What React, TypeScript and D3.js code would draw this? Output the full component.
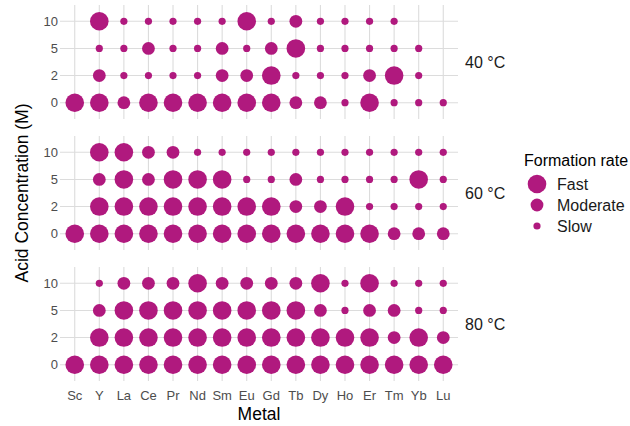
import React, { useEffect, useRef } from 'react';
import * as d3 from 'd3';

// metals on x, acid concentration on y, one panel per temperature
const metals = ['Sc', 'Y', 'La', 'Ce', 'Pr', 'Nd', 'Sm', 'Eu', 'Gd', 'Tb', 'Dy', 'Ho', 'Er', 'Tm', 'Yb', 'Lu'];
const concentrations = ['10', '5', '2', '0'];
const temperatures = ['40 °C', '60 °C', '80 °C'];
const rates = ['Fast', 'Moderate', 'Slow'];

// F = fast, M = moderate, S = slow, - = not observed; rows follow `concentrations`
const rates40 = [
  '-FSSSSSFSMSSSS--',
  '-SSMSSMSMFSSSSS-',
  '-MSSSSMMFSSSMFS-',
  'FFMFFFFFFMMSFSSS',
];
const rates60 = [
  '-FFMMSSSSSSSSSSS',
  '-MFMFFFSSMSSSSFS',
  '-FFFFFFFFMMFSSSS',
  'FFFFFFFFFFFFFMMM',
];
const rates80 = [
  '-SMMMFMMMMFSFSSS',
  '-MFFFFFFFFMSMMSS',
  '-FFFFFFFFFFFFMFM',
  'FFFFFFFFFFFFFFFF',
];
const panelRates = [rates40, rates60, rates80];

const codeToRate: Record<string, string> = { F: 'Fast', M: 'Moderate', S: 'Slow' };

const App = () => {
  const ref = useRef<SVGSVGElement>(null);

  useEffect(() => {
    const svg = d3.select(ref.current);
    svg.selectAll('*').remove();

    const width = 630;
    const height = 426;
    const left = 60;
    const right = 458;
    const panelTop = 5;
    const panelH = 114;
    const gap = 17;
    const color = '#b0197e';
    const font = 'Liberation Sans, Arial, sans-serif';

    const x = d3.scalePoint().domain(metals).range([left, right]).padding(0.6);
    const r = d3.scaleOrdinal<string, number>().domain(rates).range([9.3, 6.4, 3.6]);

    panelRates.forEach((rows, p) => {
      const top = panelTop + p * (panelH + gap);
      const y = d3.scalePoint().domain(concentrations).range([top, top + panelH]).padding(0.6);
      const g = svg.append('g');

      g.selectAll('line.v')
        .data(metals)
        .enter()
        .append('line')
        .attr('x1', d => x(d)!)
        .attr('x2', d => x(d)!)
        .attr('y1', top)
        .attr('y2', top + panelH)
        .attr('stroke', '#dcdcdc')
        .attr('stroke-width', 1.1);

      g.selectAll('line.h')
        .data(concentrations)
        .enter()
        .append('line')
        .attr('x1', left)
        .attr('x2', right)
        .attr('y1', d => y(d)!)
        .attr('y2', d => y(d)!)
        .attr('stroke', '#dcdcdc')
        .attr('stroke-width', 1.1);

      g.selectAll('text.yt')
        .data(concentrations)
        .enter()
        .append('text')
        .attr('x', left - 2)
        .attr('y', d => y(d)!)
        .attr('dy', '0.35em')
        .attr('text-anchor', 'end')
        .attr('font-family', font)
        .attr('font-size', 13)
        .attr('fill', '#4d4d4d')
        .text(d => d);

      const points: { metal: string; conc: string; rate: string }[] = [];
      rows.forEach((row, i) => {
        row.split('').forEach((c, j) => {
          if (c !== '-') points.push({ metal: metals[j], conc: concentrations[i], rate: codeToRate[c] });
        });
      });

      g.selectAll('circle')
        .data(points)
        .enter()
        .append('circle')
        .attr('cx', d => x(d.metal)!)
        .attr('cy', d => y(d.conc)!)
        .attr('r', d => r(d.rate))
        .attr('fill', color);

      g.append('text')
        .attr('x', right + 7)
        .attr('y', top + panelH / 2)
        .attr('dy', '0.35em')
        .attr('font-family', font)
        .attr('font-size', 16)
        .attr('fill', '#1a1a1a')
        .text(temperatures[p]);
    });

    const bottom = panelTop + 3 * panelH + 2 * gap;

    svg.selectAll('text.xt')
      .data(metals)
      .enter()
      .append('text')
      .attr('x', d => x(d)!)
      .attr('y', bottom + 14)
      .attr('dy', '0.35em')
      .attr('text-anchor', 'middle')
      .attr('font-family', font)
      .attr('font-size', 13)
      .attr('fill', '#4d4d4d')
      .text(d => d);

    svg.append('text')
      .attr('x', (left + right) / 2)
      .attr('y', 414)
      .attr('dy', '0.35em')
      .attr('text-anchor', 'middle')
      .attr('font-family', font)
      .attr('font-size', 17.5)
      .attr('fill', '#000')
      .text('Metal');

    svg.append('text')
      .attr('transform', `translate(22,${(panelTop + bottom) / 2}) rotate(-90)`)
      .attr('dy', '0.35em')
      .attr('text-anchor', 'middle')
      .attr('font-family', font)
      .attr('font-size', 17.5)
      .attr('fill', '#000')
      .text('Acid Concentration (M)');

    // legend
    const lg = svg.append('g').attr('transform', 'translate(524,0)');
    lg.append('text')
      .attr('x', 0)
      .attr('y', 160)
      .attr('dy', '0.35em')
      .attr('font-family', font)
      .attr('font-size', 16)
      .attr('fill', '#000')
      .text('Formation rate');

    const ly = d3.scalePoint().domain(rates).range([184, 226]);
    lg.selectAll('circle')
      .data(rates)
      .enter()
      .append('circle')
      .attr('cx', 13)
      .attr('cy', d => ly(d)!)
      .attr('r', d => r(d))
      .attr('fill', color);
    lg.selectAll('text.lt')
      .data(rates)
      .enter()
      .append('text')
      .attr('x', 33)
      .attr('y', d => ly(d)!)
      .attr('dy', '0.35em')
      .attr('font-family', font)
      .attr('font-size', 16)
      .attr('fill', '#1a1a1a')
      .text(d => d);

    svg.attr('width', width).attr('height', height);
  }, []);

  return <svg ref={ref} style={{ position: 'absolute', left: 0, top: 0, background: '#fff' }} />;
};

export default App;
